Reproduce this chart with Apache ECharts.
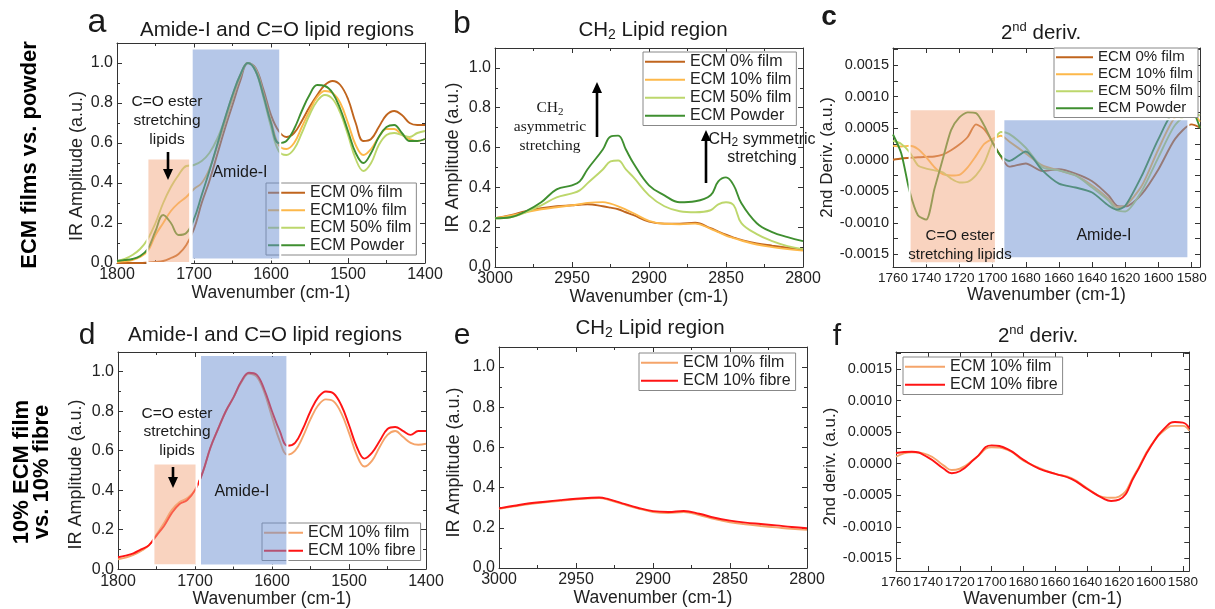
<!DOCTYPE html>
<html>
<head>
<meta charset="utf-8">
<script src="https://cdn.jsdelivr.net/npm/echarts@6/dist/echarts.min.js"></script>
<style>html,body{margin:0;background:#fff}#main{width:1215px;height:609px}</style>
</head>
<body>
<div id="main"></div>
<script>
const FONT = '"Liberation Sans", Arial, sans-serif';
const SERIF = '"Liberation Serif", "Times New Roman", serif';

// ---- panel a: Amide-I / C=O, films vs powder ----
const wnA = [1800,1790,1780,1770,1760,1750,1740,1730,1720,1710,1700,1690,1680,1670,1660,1650,1640,1630,1620,1610,1600,1590,1580,1570,1560,1550,1540,1530,1520,1510,1500,1490,1480,1470,1460,1450,1440,1430,1420,1410,1400];
const a0   = [0.0,0.0,0.0,0.0,0.002,0.005,0.01,0.025,0.045,0.09,0.17,0.3,0.41,0.54,0.67,0.79,0.91,1.0,0.975,0.87,0.74,0.66,0.63,0.65,0.71,0.78,0.84,0.89,0.91,0.89,0.82,0.7,0.61,0.62,0.68,0.74,0.76,0.74,0.7,0.69,0.69];
const a10  = [0.005,0.008,0.015,0.03,0.06,0.14,0.2,0.26,0.3,0.33,0.37,0.4,0.47,0.58,0.7,0.82,0.93,1.0,0.97,0.85,0.71,0.59,0.57,0.6,0.68,0.76,0.83,0.86,0.85,0.8,0.7,0.59,0.54,0.57,0.63,0.67,0.67,0.64,0.62,0.61,0.62];
const a50  = [0.01,0.02,0.04,0.07,0.12,0.2,0.3,0.38,0.44,0.485,0.49,0.51,0.55,0.62,0.72,0.84,0.94,1.0,0.96,0.83,0.68,0.56,0.54,0.57,0.65,0.74,0.81,0.84,0.82,0.75,0.64,0.52,0.46,0.5,0.59,0.64,0.65,0.64,0.63,0.65,0.66];
const aPow = [0.01,0.015,0.02,0.035,0.07,0.16,0.24,0.2,0.14,0.15,0.22,0.34,0.46,0.59,0.72,0.84,0.94,1.0,0.96,0.84,0.7,0.6,0.61,0.67,0.76,0.84,0.89,0.885,0.85,0.77,0.66,0.55,0.5,0.55,0.63,0.68,0.69,0.65,0.61,0.61,0.62];

// ---- panel b: CH2 region, films vs powder ----
const wnB = [3000,2990,2980,2970,2960,2950,2945,2940,2930,2925,2920,2915,2910,2900,2890,2880,2870,2860,2855,2850,2845,2840,2830,2820,2810,2800];
const b0   = [0.245,0.26,0.28,0.295,0.305,0.31,0.313,0.315,0.305,0.298,0.29,0.275,0.26,0.228,0.218,0.218,0.222,0.195,0.178,0.162,0.148,0.136,0.118,0.107,0.097,0.087];
const b10  = [0.245,0.258,0.275,0.29,0.3,0.31,0.315,0.322,0.326,0.318,0.305,0.288,0.27,0.232,0.217,0.215,0.218,0.192,0.175,0.158,0.145,0.133,0.113,0.1,0.09,0.082];
const b50  = [0.245,0.25,0.275,0.31,0.35,0.37,0.385,0.42,0.49,0.53,0.535,0.49,0.45,0.36,0.305,0.28,0.275,0.285,0.315,0.325,0.31,0.22,0.165,0.13,0.105,0.09];
const bPow = [0.245,0.25,0.28,0.325,0.39,0.41,0.43,0.49,0.59,0.655,0.66,0.59,0.52,0.41,0.36,0.325,0.33,0.36,0.43,0.45,0.41,0.32,0.22,0.175,0.15,0.13];

// ---- panel c: 2nd derivative, films vs powder ----
const wnC = [1760,1755,1750,1745,1740,1735,1730,1725,1720,1715,1710,1705,1700,1695,1690,1680,1670,1660,1650,1640,1630,1625,1620,1610,1600,1590,1580,1575];
const c0   = [0.0,0.00002,0.00003,0.00004,0.000045,0.00005,0.00008,0.00015,0.00024,0.00036,0.00056,0.00048,0.00028,0.00005,-0.00011,-0.00006,-0.00018,-0.00015,-0.00022,-0.00034,-0.00057,-0.00073,-0.00074,-0.00054,-0.00015,0.00033,0.00056,0.00051];
const c10  = [0.00022,0.00021,0.00022,0.00017,0.00004,-0.00012,-0.00023,-0.00025,-0.00024,-0.00012,0.00006,0.00025,0.00033,0.00038,0.00029,0.0001,-0.00009,-0.00017,-0.00025,-0.00041,-0.00062,-0.00075,-0.00073,-0.00041,0.00017,0.00067,0.00075,0.0006];
const c50  = [0.0003,0.00025,0.00012,-0.00009,-0.00014,-0.00017,-0.0002,-0.0003,-0.00036,-0.00035,-0.00025,-0.00005,0.00027,0.00044,0.00041,0.00019,-0.00012,-0.00017,-0.00025,-0.00044,-0.00065,-0.0008,-0.00082,-0.00049,0.00004,0.00055,0.00075,0.0007];
const cPow = [0.0004,0.0001,-0.0005,-0.00088,-0.00095,-0.00046,0.00001,0.00047,0.00067,0.00075,0.00074,0.00054,0.00027,0.00006,-0.00002,0.00013,-0.00017,-0.00038,-0.00044,-0.00052,-0.00073,-0.00079,-0.00073,-0.00025,0.00033,0.00075,0.00075,0.0005];

// ---- panel d: Amide-I / C=O, 10% film vs fibre ----
const wnD = wnA;
const dFilm  = [0.05,0.058,0.072,0.092,0.12,0.175,0.235,0.3,0.34,0.36,0.4,0.49,0.615,0.71,0.8,0.87,0.945,0.99,0.975,0.895,0.77,0.65,0.58,0.6,0.67,0.76,0.83,0.86,0.85,0.79,0.69,0.58,0.52,0.55,0.62,0.68,0.7,0.67,0.64,0.63,0.635];
const dFibre = [0.06,0.068,0.08,0.1,0.12,0.17,0.22,0.285,0.33,0.35,0.4,0.49,0.615,0.71,0.8,0.87,0.95,0.995,0.985,0.91,0.8,0.7,0.625,0.64,0.71,0.8,0.87,0.9,0.89,0.83,0.73,0.62,0.56,0.59,0.65,0.71,0.72,0.7,0.68,0.7,0.7];

// ---- panel e: CH2 region, 10% film vs fibre ----
const wnE = [3000,2990,2980,2970,2960,2950,2940,2935,2930,2920,2910,2900,2890,2880,2870,2860,2850,2840,2830,2820,2810,2800];
const eFilm  = [0.295,0.307,0.318,0.327,0.335,0.342,0.347,0.348,0.342,0.319,0.297,0.279,0.274,0.278,0.264,0.243,0.228,0.217,0.209,0.202,0.195,0.19];
const eFibre = [0.297,0.31,0.322,0.33,0.338,0.345,0.35,0.351,0.345,0.322,0.3,0.283,0.279,0.284,0.27,0.25,0.236,0.226,0.219,0.212,0.204,0.198];

// ---- panel f: 2nd derivative, 10% film vs fibre ----
const wnF = [1760,1750,1740,1730,1725,1720,1710,1700,1690,1680,1670,1660,1650,1640,1630,1625,1620,1610,1600,1590,1585,1580,1576];
const fFilm  = [0.00011,0.00018,0.00014,-0.00003,-0.0001,-0.00008,0.00009,0.00026,0.00022,0.00005,-0.00007,-0.00016,-0.00023,-0.00039,-0.00053,-0.00054,-0.00052,-0.00016,0.00029,0.00056,0.0006,0.0006,0.00052];
const fFibre = [0.00017,0.00019,0.0001,-0.00008,-0.00015,-0.00012,0.00009,0.00029,0.00023,0.00006,-0.00008,-0.00016,-0.00024,-0.0004,-0.00055,-0.00059,-0.00057,-0.00018,0.00028,0.0006,0.00066,0.00065,0.00056];

// shaded regions [x1, x2, y1, y2]
const oraA = [1760.5, 1705, 0, 0.523];
const bluA = [1703, 1588, 0.017, 1.072];
const oraC = [1750, 1698, -0.00164, 0.0008];
const bluC = [1693.5, 1582, -0.00156, 0.00064];
const oraD = [1754, 1698, 0.02, 0.535];
const bluD = [1693.5, 1580, 0.018, 1.085];

const derivLabels = [-0.0015,-0.001,-0.0005,0,0.0005,0.001,0.0015];
const derivTicks = [-0.0015,-0.00125,-0.001,-0.00075,-0.0005,-0.00025,0,0.00025,0.0005,0.00075,0.001,0.00125,0.0015,0.00175];
const derivX = [1760,1740,1720,1700,1680,1660,1640,1620,1600,1580];

const C = {f0:'#C0651E', f10:'#FDB84A', f50:'#BDD76C', pow:'#3F8F30', film:'#F5A46A', fibre:'#FF1414'};
const ORANGE = 'rgba(243,168,128,0.5)';
const BLUE = 'rgba(108,143,210,0.5)';
const INK = '#333';

const grids = [
  {left:117, top:43, width:308, height:220},
  {left:495, top:48, width:308, height:219},
  {left:893, top:48, width:307, height:219},
  {left:118, top:352, width:308, height:220},
  {left:499, top:347, width:308, height:221},
  {left:896, top:352, width:308, height:219}
];

const xAxes = [], yAxes = [];
function addX(gi, o) {
  const base = {gridIndex:gi, type:'value', inverse:true, min:o.min, max:o.max,
    axisLine:{show:true, onZero:false, lineStyle:{color:INK, width:1}}, splitLine:{show:false}};
  if (o.interval) base.interval = o.interval;
  const tick = {show:true, inside:true, length:5, lineStyle:{color:INK}};
  if (o.ticks) tick.customValues = o.ticks;
  const minor = {show:!!o.minor, splitNumber:2, length:3, lineStyle:{color:INK}};
  const label = {fontSize:o.fs, color:'#222', fontFamily:FONT, margin:4, formatter:v => String(v),
    showMinLabel:true, showMaxLabel:true, hideOverlap:false};
  if (o.ticks) label.customValues = o.ticks;
  xAxes.push(Object.assign({}, base, {position:'bottom', axisTick:tick, minorTick:minor, axisLabel:label,
    name:'Wavenumber (cm-1)', nameLocation:'middle', nameGap:o.nameGap,
    nameTextStyle:{fontSize:17.5, color:'#222', fontFamily:FONT}}));
  xAxes.push(Object.assign({}, base, {position:'top', axisTick:tick, minorTick:minor, axisLabel:{show:false}}));
}
function addY(gi, o) {
  const base = {gridIndex:gi, type:'value', min:o.min, max:o.max,
    axisLine:{show:true, onZero:false, lineStyle:{color:INK, width:1}}, splitLine:{show:false}};
  if (o.interval) base.interval = o.interval;
  const tick = {show:true, inside:true, length:5, lineStyle:{color:INK}};
  if (o.ticks) tick.customValues = o.ticks;
  const minor = {show:!!o.minor, splitNumber:2, length:3, lineStyle:{color:INK}};
  const label = {fontSize:o.fs, color:'#222', fontFamily:FONT, margin:4, formatter:o.fmt};
  if (o.labels) label.customValues = o.labels;
  yAxes.push(Object.assign({}, base, {position:'left', axisTick:tick, minorTick:minor, axisLabel:label,
    name:o.name, nameLocation:'middle', nameGap:o.nameGap,
    nameTextStyle:{fontSize:o.nfs, color:'#222', fontFamily:FONT, padding:o.npad || 0}}));
  yAxes.push(Object.assign({}, base, {position:'right', axisTick:tick, minorTick:minor, axisLabel:{show:false}}));
}
const fmt1 = v => v > 1.05 ? '' : v.toFixed(1);
const fmt4 = v => v.toFixed(4);
const ampY = {min:0, max:1.1, interval:0.2, minor:true, fs:16, fmt:fmt1, name:'IR Amplitude (a.u.)', nfs:18};
const derY = {min:-0.0017, max:0.00177, ticks:derivTicks, labels:derivLabels, fs:14.5, fmt:fmt4, nfs:17};

addX(0, {min:1400, max:1800, interval:100, minor:true, fs:16, nameGap:14});
addX(1, {min:2800, max:3000, interval:50, minor:true, fs:16, nameGap:18});
addX(2, {min:1575, max:1760, ticks:derivX, fs:13.5, nameGap:16});
addX(3, {min:1400, max:1800, interval:100, minor:true, fs:16, nameGap:18});
addX(4, {min:2800, max:3000, interval:50, minor:true, fs:16, nameGap:18});
addX(5, {min:1576, max:1760, ticks:derivX, fs:13.5, nameGap:16});
addY(0, Object.assign({}, ampY, {nameGap:31, npad:[0,26,0,0]}));
addY(1, Object.assign({}, ampY, {nameGap:33}));
addY(2, Object.assign({}, derY, {name:'2nd Deriv. (a.u.)', nameGap:56}));
addY(3, Object.assign({}, ampY, {nameGap:33, npad:[0,28,0,0]}));
addY(4, Object.assign({}, ampY, {nameGap:36, npad:[0,10,0,0]}));
addY(5, Object.assign({}, derY, {name:'2nd deriv. (a.u.)', nameGap:55, npad:[0,10,0,0]}));

function line(name, xs, ys, gi, color, smooth) {
  return {type:'line', name:name, xAxisIndex:gi*2, yAxisIndex:gi*2,
    data:xs.map((x, i) => [x, ys[i]]), symbol:'none', smooth:smooth,
    lineStyle:{color:color, width:1.9}, itemStyle:{color:color}, z:2};
}
function areas(list) {
  return {silent:true, z:5,
    data:list.map(r => [{coord:[r[0], r[2]], itemStyle:{color:r[4], borderColor:'#fff', borderWidth:2}}, {coord:[r[1], r[3]]}])};
}

const series = [
  line('ECM 0% film', wnA, a0, 0, C.f0, 0.4),
  line('ECM10% film', wnA, a10, 0, C.f10, 0.4),
  line('ECM 50% film', wnA, a50, 0, C.f50, 0.4),
  line('ECM Powder', wnA, aPow, 0, C.pow, 0.4),
  line('ECM 0% film', wnB, b0, 1, C.f0, 0.4),
  line('ECM 10% film', wnB, b10, 1, C.f10, 0.4),
  line('ECM 50% film', wnB, b50, 1, C.f50, 0.4),
  line('ECM Powder', wnB, bPow, 1, C.pow, 0.4),
  line('ECM 0% film', wnC, c0, 2, C.f0, 0.25),
  line('ECM 10% film', wnC, c10, 2, C.f10, 0.25),
  line('ECM 50% film', wnC, c50, 2, C.f50, 0.25),
  line('ECM Powder', wnC, cPow, 2, C.pow, 0.25),
  line('ECM 10% film ', wnD, dFilm, 3, C.film, 0.4),
  line('ECM 10% fibre', wnD, dFibre, 3, C.fibre, 0.4),
  line('ECM 10% film ', wnE, eFilm, 4, C.film, 0.4),
  line('ECM 10% fibre', wnE, eFibre, 4, C.fibre, 0.4),
  line('ECM 10% film ', wnF, fFilm, 5, C.film, 0.5),
  line('ECM 10% fibre', wnF, fFibre, 5, C.fibre, 0.5)
];
series[3].markArea = areas([oraA.concat(ORANGE), bluA.concat(BLUE)]);
series[11].markArea = areas([oraC.concat(ORANGE), bluC.concat(BLUE)]);
series[13].markArea = areas([oraD.concat(ORANGE), bluD.concat(BLUE)]);

function legend(names, left, top, iw, fs, gap, bg) {
  return {data:names, orient:'vertical', left:left, top:top, icon:'rect', itemWidth:iw, itemHeight:2,
    itemGap:gap, padding:[1,5,1,2], borderColor:'#888', borderWidth:1, backgroundColor:bg,
    selectedMode:false, formatter:n => n.trim(),
    textStyle:{fontSize:fs, lineHeight:fs + 1.5, color:'#222', fontFamily:FONT}};
}
const topNames = ['ECM 0% film','ECM 10% film','ECM 50% film','ECM Powder'];
const botNames = ['ECM 10% film ','ECM 10% fibre'];
const legends = [
  legend(['ECM 0% film','ECM10% film','ECM 50% film','ECM Powder'], 266, 183, 37, 16, 0, 'transparent'),
  legend(topNames, 643, 52, 40, 16, 0.5, '#fff'),
  legend(topNames, 1054, 48, 37, 15, 0.5, '#fff'),
  legend(botNames, 262, 523, 39, 16, 0.5, 'transparent'),
  legend(botNames, 639, 353, 37, 16, 0.5, '#fff'),
  legend(botNames, 903, 357, 40, 16, 0.5, '#fff')
];

function txt(x, y, text, fs, extra) {
  return {type:'text', x:x, y:y, z:20, style:Object.assign({text:text, fontSize:fs, fontFamily:FONT,
    fill:'#1a1a1a', align:'center', verticalAlign:'middle'}, extra || {})};
}
function arrow(x, yFrom, yTip) {
  const d = yTip > yFrom ? 1 : -1, h = 11;
  return [
    {type:'line', z:20, shape:{x1:x, y1:yFrom, x2:x, y2:yTip - d * h}, style:{stroke:'#000', lineWidth:2.6}},
    {type:'polygon', z:20, shape:{points:[[x - 5, yTip - d * h], [x + 5, yTip - d * h], [x, yTip]]}, style:{fill:'#000'}}
  ];
}
const subRich = {sub:{fontSize:14, verticalAlign:'bottom', lineHeight:16, fontFamily:FONT}};
const supRich = {sup:{fontSize:13, verticalAlign:'top', lineHeight:12, fontFamily:FONT}};
const titleFs = 20.5;
const graphics = [
  txt(97, 23, 'a', 34), txt(462, 24, 'b', 32), txt(829, 17, 'c', 28, {fontWeight:'bold'}),
  txt(87, 336, 'd', 30), txt(462, 336, 'e', 30), txt(837, 337, 'f', 30),
  txt(277, 30, 'Amide-I and C=O lipid regions', titleFs),
  txt(653, 30, 'CH{sub|2} Lipid region', titleFs, {rich:subRich, lineHeight:24}),
  txt(1041, 33, '2{sup|nd} deriv.', titleFs, {rich:supRich, lineHeight:24}),
  txt(265, 335, 'Amide-I and C=O lipid regions', titleFs),
  txt(650, 328, 'CH{sub|2} Lipid region', titleFs, {rich:subRich, lineHeight:24}),
  txt(1038, 336, '2{sup|nd} deriv.', titleFs, {rich:supRich, lineHeight:24}),
  Object.assign(txt(30, 155, 'ECM films vs. powder', 22, {fontWeight:'bold', fill:'#000'}), {rotation:Math.PI / 2}),
  Object.assign(txt(32, 472, '10% ECM film\nvs. 10% fibre', 22, {fontWeight:'bold', fill:'#000', lineHeight:20}), {rotation:Math.PI / 2}),
  txt(167, 121, 'C=O ester\nstretching\nlipids', 15.5, {lineHeight:19}),
  txt(240, 173, 'Amide-I', 16),
  txt(550, 127, 'CH{s|2}\nasymmetric\nstretching', 15.5, {fontFamily:SERIF, lineHeight:19,
    rich:{s:{fontSize:11, fontFamily:SERIF, verticalAlign:'bottom', lineHeight:14}}}),
  txt(762, 149, 'CH{sub|2} symmetric\nstretching', 16, {lineHeight:18, rich:{sub:{fontSize:12, verticalAlign:'bottom', lineHeight:13, fontFamily:FONT}}}),
  txt(960, 245, 'C=O ester\nstretching lipids', 15, {lineHeight:19}),
  txt(1104, 236, 'Amide-I', 16),
  txt(177, 432, 'C=O ester\nstretching\nlipids', 15.5, {lineHeight:18.5}),
  txt(242, 492, 'Amide-I', 16)
].concat(arrow(168, 152, 180), arrow(597, 137, 82), arrow(706, 183, 130), arrow(173, 467, 488));

const chart = echarts.init(document.getElementById('main'));
chart.setOption({
  animation:false,
  backgroundColor:'#fff',
  grid:grids,
  xAxis:xAxes,
  yAxis:yAxes,
  legend:legends,
  series:series,
  graphic:graphics
});
</script>
</body>
</html>
